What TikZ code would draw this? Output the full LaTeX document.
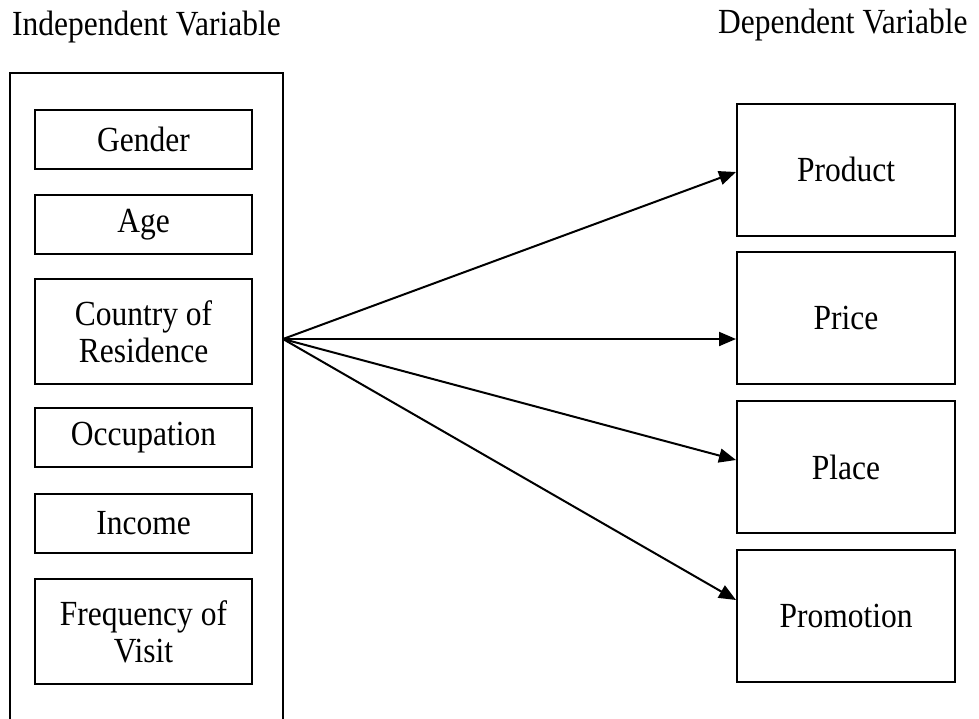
\documentclass[tikz,border=0pt]{standalone}
\usepackage{fontspec}
\usepackage{graphicx}
\setmainfont{Liberation Serif}
\usetikzlibrary{arrows.meta}
\newcommand{\vst}[1]{\scalebox{1}[1.12]{#1}}
\begin{document}
\begin{tikzpicture}[x=1pt,y=-1pt,
  box/.style={draw=black, line width=2pt, rectangle, inner sep=0pt, align=center,
    font=\fontsize{31.5}{37}\selectfont},
  lbox/.style={box, minimum width=217pt},
  rbox/.style={box, minimum width=218pt, minimum height=132pt},
  title/.style={inner sep=0pt, anchor=base west, font=\fontsize{31.5}{36}\selectfont},
  arr/.style={line width=2pt, -{Triangle[length=17pt,width=14pt]}}]
\useasboundingbox (0,0) rectangle (979,718);
\node[title] (tin) at (12,35) {\vst{Independent Variable}};
\node[title] (tdep) at (718,33) {\vst{Dependent Variable}};
\draw[line width=2pt] (10,722) -- (10,73) -- (283,73) -- (283,722);
\coordinate (src) at (283,339);
\node[lbox, minimum height=59pt] (gender) at (143.5,139.5) {\vst{Gender}};
\node[lbox, minimum height=59pt] (age) at (143.5,224.5) {\vst{Age}};
\node[lbox, minimum height=105pt] (country) at (143.5,331.5) {\vst{Country of}\\\vst{Residence}};
\node[lbox, minimum height=59pt] (occ) at (143.5,437.5) {\vst{Occupation}};
\node[lbox, minimum height=59pt] (income) at (143.5,523.5) {\vst{Income}};
\node[lbox, minimum height=105pt] (freq) at (143.5,631.5) {\vst{Frequency of}\\\vst{Visit}};
\node[rbox] (product) at (846,169.5) {\vst{Product}};
\node[rbox] (price) at (846,318) {\vst{Price}};
\node[rbox] (place) at (846,467) {\vst{Place}};
\node[rbox] (promo) at (846,615.5) {\vst{Promotion}};
\draw[arr] (src) -- (product.west |- 0,172);
\draw[arr] (src) -- (price.west |- 0,339);
\draw[arr] (src) -- (place.west |- 0,460);
\draw[arr] (src) -- (promo.west |- 0,600);
\end{tikzpicture}
\end{document}
